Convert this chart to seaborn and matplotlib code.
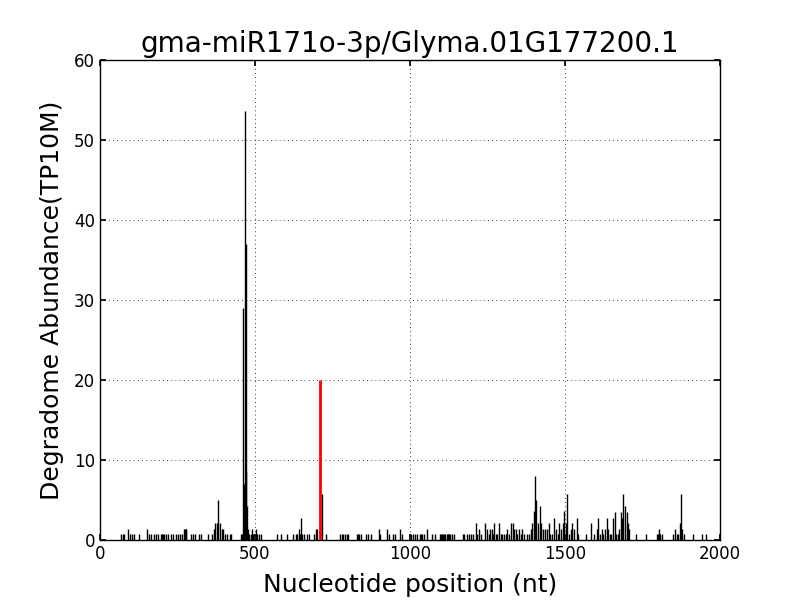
import matplotlib
matplotlib.use('Agg')
import matplotlib.pyplot as plt
import seaborn as sns

title = 'gma-miR171o-3p/Glyma.01G177200.1'

# degradome tags: position (nt) and abundance (TP10M), ten per line
positions = [68, 73, 77, 90, 97, 103, 111, 127, 150, 159,
             166, 174, 181, 188, 197, 200, 203, 206, 213, 220,
             228, 236, 244, 250, 258, 263, 270, 273, 276, 279,
             292, 299, 306, 319, 326, 349, 362, 368, 372, 377,
             382, 387, 393, 398, 403, 409, 419, 424, 454, 457,
             460, 462, 465, 468, 470, 472, 475, 478, 482, 487,
             490, 495, 502, 506, 512, 519, 570, 584, 604, 624,
             632, 637, 641, 645, 648, 652, 658, 669, 675, 690,
             697, 701, 716, 728, 774, 780, 785, 790, 796, 801,
             828, 832, 836, 841, 857, 865, 874, 900, 904, 927,
             931, 946, 952, 968, 973, 1002, 1009, 1016, 1024, 1032,
             1035, 1038, 1045, 1055, 1071, 1081, 1097, 1100, 1103, 1107,
             1110, 1113, 1118, 1121, 1124, 1127, 1129, 1134, 1142, 1170,
             1174, 1183, 1189, 1197, 1204, 1213, 1217, 1221, 1230, 1242,
             1248, 1254, 1258, 1263, 1267, 1272, 1277, 1282, 1288, 1292,
             1297, 1302, 1309, 1314, 1320, 1326, 1331, 1336, 1341, 1346,
             1352, 1357, 1362, 1367, 1378, 1385, 1390, 1395, 1399, 1404,
             1408, 1413, 1419, 1424, 1429, 1435, 1441, 1447, 1452, 1459,
             1466, 1471, 1476, 1482, 1487, 1492, 1498, 1503, 1508, 1513,
             1518, 1523, 1528, 1538, 1542, 1567, 1584, 1595, 1602, 1608,
             1613, 1618, 1623, 1628, 1634, 1639, 1644, 1649, 1655, 1660,
             1665, 1670, 1675, 1681, 1685, 1688, 1694, 1699, 1704, 1707,
             1728, 1762, 1796, 1800, 1804, 1808, 1812, 1847, 1855, 1860,
             1865, 1870, 1875, 1879, 1883, 1914, 1941, 1955]
abundance = [0.7, 0.7, 0.7, 1.4, 0.7, 0.7, 0.7, 0.7, 1.4, 0.7,
             0.7, 0.7, 0.7, 0.7, 0.7, 0.7, 0.7, 0.7, 0.7, 0.7,
             0.7, 0.7, 0.7, 0.7, 0.7, 0.7, 1.4, 1.4, 1.4, 1.4,
             0.7, 0.7, 0.7, 0.7, 0.7, 0.7, 0.7, 1.4, 2.1, 2.1,
             5.0, 2.1, 1.4, 1.4, 0.7, 0.7, 0.7, 0.7, 0.7, 0.7,
             0.7, 29.0, 7.0, 53.6, 37.0, 8.6, 4.3, 1.4, 0.7, 0.7,
             1.4, 0.7, 1.4, 0.7, 0.7, 0.7, 0.7, 0.7, 0.7, 0.7,
             0.7, 0.7, 1.4, 0.7, 2.8, 0.7, 0.7, 0.7, 0.7, 0.7,
             1.4, 1.4, 5.7, 0.7, 0.7, 0.7, 0.7, 0.7, 0.7, 0.7,
             0.7, 0.7, 0.7, 0.7, 0.7, 0.7, 0.7, 1.4, 0.7, 1.4,
             0.7, 0.7, 0.7, 1.4, 0.7, 0.7, 0.7, 0.7, 0.7, 0.7,
             0.7, 0.7, 0.7, 1.4, 0.7, 0.7, 0.7, 0.7, 0.7, 0.7,
             0.7, 0.7, 0.7, 0.7, 0.7, 0.7, 0.7, 0.7, 0.7, 0.7,
             0.7, 0.7, 0.7, 0.7, 0.7, 2.1, 0.7, 1.4, 0.7, 2.1,
             1.4, 0.7, 1.4, 1.4, 0.7, 2.1, 0.7, 0.7, 2.1, 0.7,
             0.7, 0.7, 0.7, 1.4, 0.7, 2.1, 2.1, 1.4, 1.4, 0.7,
             1.4, 0.7, 1.4, 0.7, 0.7, 0.7, 1.4, 2.1, 3.6, 8.0,
             5.0, 2.1, 4.3, 2.1, 1.4, 1.4, 1.4, 2.1, 0.7, 0.7,
             2.8, 1.4, 0.7, 2.1, 1.4, 2.1, 3.6, 2.1, 5.7, 0.7,
             1.4, 2.1, 1.4, 2.8, 0.7, 0.7, 2.1, 0.7, 1.4, 2.8,
             0.7, 1.4, 0.7, 1.4, 2.8, 1.4, 0.7, 0.7, 2.8, 3.5,
             0.7, 0.7, 1.4, 3.5, 2.8, 5.7, 4.3, 3.5, 2.1, 1.4,
             0.7, 0.7, 0.7, 0.7, 1.4, 0.7, 0.7, 0.7, 1.4, 0.7,
             0.7, 2.1, 5.7, 1.4, 0.7, 0.7, 0.7, 0.7]

# predicted cleavage site
site_pos = [709]
site_val = [20.0]

sns.set_theme(style='white', rc={
    'axes.edgecolor': 'black',
    'axes.linewidth': 1.0,
    'axes.grid': False,
    'text.color': 'black',
    'axes.labelcolor': 'black',
    'xtick.direction': 'in',
    'ytick.direction': 'in',
    'xtick.top': True,
    'ytick.right': True,
    'xtick.bottom': True,
    'ytick.left': True,
    'xtick.major.size': 4,
    'ytick.major.size': 4,
    'xtick.color': 'black',
    'ytick.color': 'black',
})
plt.rcParams['font.family'] = ['DejaVu Sans']

fig = plt.figure(figsize=(8, 6), dpi=100)
ax = fig.add_axes([0.125, 0.1, 0.775, 0.8])

ax.vlines(positions, 0, abundance, colors='black', linewidth=1.0)
ax.vlines(site_pos, 0, site_val, colors='red', linewidth=2.0)

ax.set_xlim(0, 2000)
ax.set_ylim(0, 60)
ax.set_xticks([0, 500, 1000, 1500, 2000])
ax.set_yticks([0, 10, 20, 30, 40, 50, 60])
ax.grid(True, color='black', linewidth=0.6, linestyle=(0, (1, 4)))
ax.set_axisbelow(True)
ax.tick_params(labelsize=12)
ax.set_title(title, fontsize=20, color='black')
ax.set_xlabel('Nucleotide position (nt)', fontsize=18, labelpad=7)
ax.set_ylabel('Degradome Abundance(TP10M)', fontsize=18, labelpad=7)
for s in ax.spines.values():
    s.set_visible(True)
    s.set_color('black')

fig.savefig('out.png', dpi=100)
